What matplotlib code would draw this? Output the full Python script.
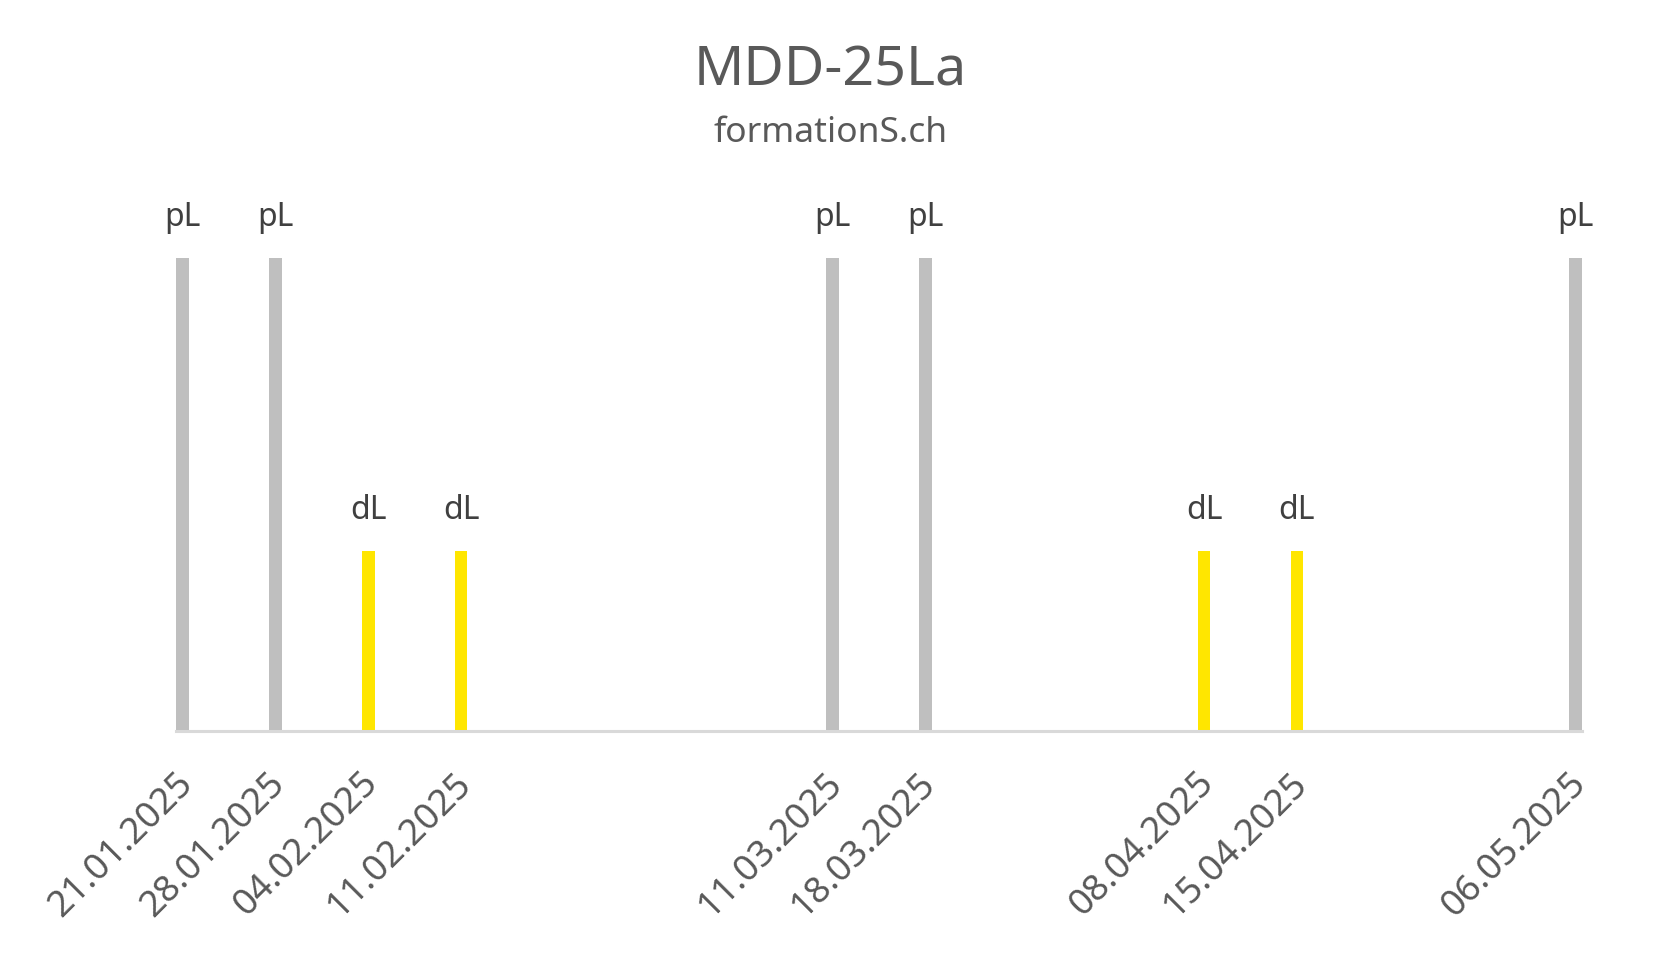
import numpy as np
import pandas as pd
import matplotlib
matplotlib.use('Agg')
import matplotlib.pyplot as plt
import matplotlib.dates as mdates
from matplotlib.transforms import ScaledTranslation

# sessions of the course
dates = ['2025-01-21', '2025-01-28', '2025-02-04', '2025-02-11', '2025-03-11',
         '2025-03-18', '2025-04-08', '2025-04-15', '2025-05-06']
kinds = ['pL', 'pL', 'dL', 'dL', 'pL', 'pL', 'dL', 'dL', 'pL']
heights = {'pL': 1.0, 'dL': 0.38}
colors = {'pL': '#bfbfbf', 'dL': '#ffe600'}

plt.rcParams['font.family'] = ['Noto Sans', 'DejaVu Sans']

d = pd.to_datetime(dates)
x = mdates.date2num(d)
y = np.array([heights[k] for k in kinds])
c = [colors[k] for k in kinds]

fig = plt.figure(figsize=(16.61, 9.56), dpi=100)
ax = fig.add_axes([176 / 1661, 225 / 956, (1582 - 176) / 1661, (730 - 257) / 956])

w = 0.97
ax.bar(x, y, width=w, color=c, zorder=2)
for xi, yi, k in zip(x, y, kinds):
    ax.annotate(k, (xi, yi), xytext=(0, 23), textcoords='offset points',
                ha='center', va='baseline', fontsize=23, color='#404040')

ax.set_xlim(x[0] - w / 2, x[-1] + w / 2)
ax.set_ylim(0, 1.0)
ax.set_xticks(x)
ax.set_xticklabels(d.strftime('%d.%m.%Y'), rotation=45, ha='right', va='center',
                   rotation_mode='anchor', fontsize=26.5, color='#595959')
ax.tick_params(axis='x', length=0, pad=34)
shift = ScaledTranslation(5 / 100, 0, fig.dpi_scale_trans)
for lab in ax.get_xticklabels():
    lab.set_transform(lab.get_transform() + shift)
ax.set_yticks([])
for s in ['top', 'left', 'right']:
    ax.spines[s].set_visible(False)
ax.spines['bottom'].set_color('#d9d9d9')
ax.spines['bottom'].set_linewidth(2.2)

fig.text(0.5, 1 - 86 / 956, 'MDD-25La', ha='center', va='baseline',
         fontsize=40, color='#595959')
fig.text(0.5, 1 - 142 / 956, 'formationS.ch', ha='center', va='baseline',
         fontsize=25.5, color='#595959')

fig.savefig('out.png', dpi=100)
